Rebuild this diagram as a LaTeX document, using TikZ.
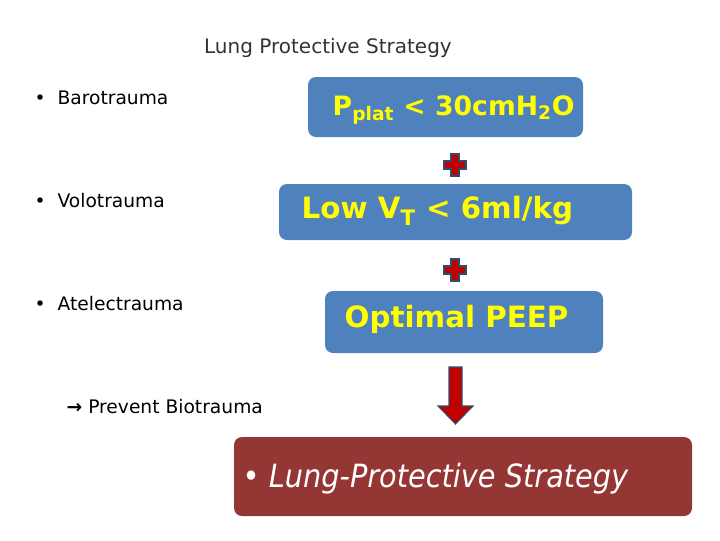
\documentclass[tikz,border=0pt]{standalone}
\usepackage{fontspec}
\setmainfont{DejaVu Sans}
\newfontfamily\cond{DejaVu Sans Condensed}
\definecolor{bluebox}{HTML}{4F81BD}
\definecolor{redbox}{HTML}{943634}
\definecolor{plusred}{HTML}{C00000}
\definecolor{yel}{HTML}{FFFF00}
\begin{document}
\begin{tikzpicture}[x=0.75pt,y=-0.75pt,
  bbox/.style={fill=bluebox,rounded corners=6pt,draw=none},
  ytext/.style={text=yel,font=\bfseries\fontsize{20}{24}\selectfont,anchor=west},
  blt/.style={anchor=west,font=\fontsize{14}{17}\selectfont},
  plusmark/.style={fill=plusred,draw=bluebox!60!black,line width=0.8pt}]
\useasboundingbox (0,0) rectangle (720,540);
\node[font=\fontsize{15}{18}\selectfont,text=black!80] (title) at (328,48) {Lung Protective Strategy};
\node[blt] (b1) at (30,98) {•\ \ Barotrauma};
\node[blt] (b2) at (30,201) {•\ \ Volotrauma};
\node[blt] (b3) at (30,304) {•\ \ Atelectrauma};
\node[blt] (pb) at (62,407) {\textbf{→} Prevent Biotrauma};
\fill[bbox] (308,77) rectangle (583,137);
\node[ytext] (t1) at (328,110) {P\textsubscript{\fontsize{14}{14}\selectfont plat} < 30cmH\textsubscript{\fontsize{14}{14}\selectfont 2}O};
\fill[bbox] (279,184) rectangle (632,240);
\node[ytext,font=\bfseries\fontsize{22}{26}\selectfont] (t2) at (297,211) {Low V\textsubscript{\fontsize{16}{16}\selectfont T} < 6ml/kg};
\fill[bbox] (325,291) rectangle (603,353);
\node[ytext,font=\bfseries\fontsize{22}{26}\selectfont] (t3) at (340,319) {Optimal PEEP};
\fill[redbox,rounded corners=6pt] (234,437) rectangle (692,516);
\node[anchor=west,text=white,font=\cond\itshape\fontsize{24}{28}\selectfont] (t4) at (238,479) {• Lung-Protective Strategy};
\foreach \y in {165,270}{
\draw[plusmark] (451,\y-11) -- (459,\y-11) -- (459,\y-4) -- (466,\y-4) -- (466,\y+4) -- (459,\y+4) -- (459,\y+11) -- (451,\y+11) -- (451,\y+4) -- (444,\y+4) -- (444,\y-4) -- (451,\y-4) -- cycle;}
\draw[plusmark] (449,367) -- (462,367) -- (462,406) -- (473,406) -- (455.5,424) -- (438,406) -- (449,406) -- cycle;
\end{tikzpicture}
\end{document}
